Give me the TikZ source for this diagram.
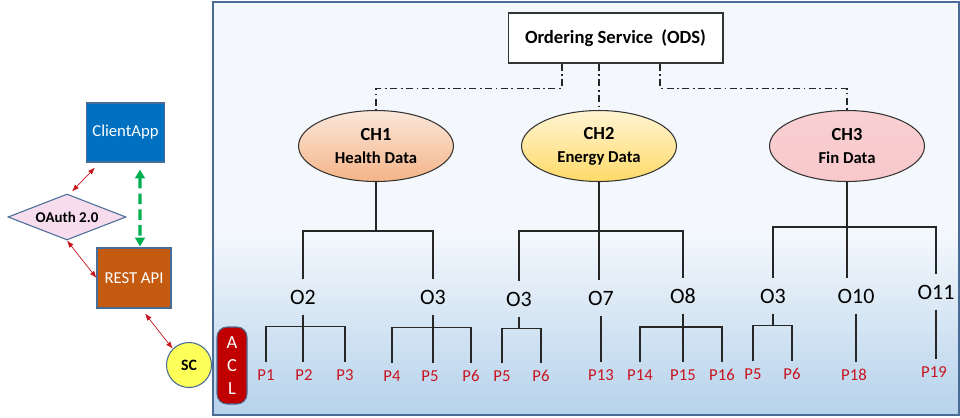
\documentclass[tikz,border=0pt]{standalone}
\usepackage{fontspec}
\setmainfont{Carlito}
\usetikzlibrary{shapes.geometric,arrows.meta}

\definecolor{panelTop}{RGB}{244,248,252}
\definecolor{panelBottom}{RGB}{182,210,235}
\definecolor{panelBorder}{RGB}{72,108,150}
\definecolor{peerRed}{RGB}{200,20,30}
\definecolor{clientBlue}{RGB}{0,112,192}
\definecolor{restOrange}{RGB}{197,90,17}
\definecolor{oauthPink}{RGB}{246,220,236}
\definecolor{scYellow}{RGB}{255,255,90}
\definecolor{aclRed}{RGB}{192,0,0}
\definecolor{greenLink}{RGB}{0,176,80}
\definecolor{healthTop}{RGB}{251,231,218}
\definecolor{healthBot}{RGB}{244,180,136}
\definecolor{energyTop}{RGB}{255,244,210}
\definecolor{energyBot}{RGB}{255,218,105}
\definecolor{finTop}{RGB}{250,208,210}
\definecolor{finBot}{RGB}{248,200,203}

\begin{document}
\begin{tikzpicture}[x=0.02cm, y=-0.02cm,
	treeline/.style={line width=0.8pt, black!85},
	ctrlline/.style={line width=0.8pt, black!85, dash pattern=on 4pt off 2pt on 1pt off 2pt},
	chan/.style={ellipse, draw=black!80, line width=0.6pt, minimum width=3.1cm, minimum height=1.42cm, align=center, inner sep=0pt},
	org/.style={inner sep=0.2cm, font=\fontsize{12.5}{14}\selectfont},
	peer/.style={inner sep=0.14cm, text=peerRed, font=\fontsize{9.5}{11}\selectfont},
	linkarrow/.style={{Latex[length=4pt,width=3pt]}-{Latex[length=4pt,width=3pt]}, peerRed, line width=0.4pt},
	appbox/.style={draw=panelBorder, line width=0.6pt, text=white, font=\fontsize{9.5}{11}\selectfont}
]

	\useasboundingbox (0,0) rectangle (960,417);

	%panel with the network
	\fill[panelTop] (213,2) rectangle (959,415);
	\shade[top color=panelTop, bottom color=panelBottom] (213,230) rectangle (959,415);
	\draw[panelBorder, line width=0.8pt] (213,2) rectangle (959,415);

	%ordering service
	\node[draw=black!80, line width=0.6pt, fill=white, minimum width=4.3cm, minimum height=1cm,
		font=\fontsize{10.6}{12}\selectfont\bfseries] (ods) at (615.5,38) {Ordering Service~~(ODS)};

	%channels ch1, ch2, ch3
	\foreach \name/\xpos/\title/\sub/\shadeName in {ch1/376/CH1/Health Data/health, ch2/599/CH2/Energy Data/energy, ch3/847/CH3/Fin Data/fin}
   {
		\node[chan, top color=\shadeName Top, bottom color=\shadeName Bot] (\name) at (\xpos,146)
			{\fontsize{10.5}{12}\selectfont\bfseries \title\\[1pt]\fontsize{9.5}{11}\selectfont\bfseries \sub};
   }

	\draw[ctrlline] ([xshift=-1.07cm]ods.south) -- ++(0,25) -| (ch1.north);
	\draw[ctrlline] (ods.south -| ch2.north) -- (ch2.north);
	\draw[ctrlline] ([xshift=0.89cm]ods.south) -- ++(0,25) -| (ch3.north);

	%organisations, names of the form o<n><channel letter>
	\foreach \name/\lbl/\xpos/\ypos in {o2a/O2/303/297, o3a/O3/433/297, o3b/O3/519/299, o7b/O7/601/298,
		o8b/O8/683/296, o3c/O3/773/296, o10c/O10/856/296, o11c/O11/936/292}
   {
		\node[org] (\name) at (\xpos,\ypos) {\lbl};
   }

	%peers
	\foreach \name/\lbl/\xpos/\ypos in {p1/P1/266/375, p2/P2/304/375, p3/P3/345/375, p4/P4/392/376, p5a/P5/430/376,
		p6a/P6/471/376, p5b/P5/502/376, p6b/P6/541/376, p13/P13/601/375, p14/P14/640/375, p15/P15/683/375,
		p16/P16/722/375, p5c/P5/753/374, p6c/P6/792/374, p18/P18/854/375, p19/P19/934/372}
   {
		\node[peer] (\name) at (\xpos,\ypos) {\lbl};
   }

	%channel to organisations
	\draw[treeline] (ch1.south) -- ++(0,49) coordinate (f1);
	\draw[treeline] (o2a.north) |- (f1) -| (o3a.north);
	\draw[treeline] (ch2.south) -- ++(0,49) coordinate (f2);
	\draw[treeline] (o3b.north) |- (f2) -| (o8b.north);
	\draw[treeline] (f2) -- (f2 |- o7b.north);
	\draw[treeline] (ch3.south) -- ++(0,45) coordinate (f3);
	\draw[treeline] (o3c.north) |- (f3) -| (o11c.north);
	\draw[treeline] (f3) -- (f3 |- o10c.north);

	%organisations to peers
	\draw[treeline] (o2a.south) -- ++(0,12) coordinate (g1);
	\draw[treeline] (p1.north) |- (g1) -| (p3.north);
	\draw[treeline] (g1) -- (g1 |- p2.north);
	\draw[treeline] (o3a.south) -- ++(0,13) coordinate (g2);
	\draw[treeline] (p4.north) |- (g2) -| (p6a.north);
	\draw[treeline] (g2) -- (g2 |- p5a.north);
	\draw[treeline] (o3b.south) -- ++(0,12) coordinate (g3);
	\draw[treeline] (p5b.north) |- (g3) -| (p6b.north);
	\draw[treeline] (o7b.south) -- (o7b.south |- p13.north);
	\draw[treeline] (o8b.south) -- ++(0,13) coordinate (g4);
	\draw[treeline] (p14.north) |- (g4) -| (p16.north);
	\draw[treeline] (g4) -- (g4 |- p15.north);
	\draw[treeline] (o3c.south) -- ++(0,12) coordinate (g5);
	\draw[treeline] (p5c.north) |- (g5) -| (p6c.north);
	\draw[treeline] (o10c.south) -- (o10c.south |- p18.north);
	\draw[treeline] (o11c.south) -- (o11c.south |- p19.north);

	%acl
	\node[draw=panelBorder, line width=0.6pt, fill=aclRed, rounded corners=0.2cm, minimum width=0.6cm, minimum height=1.54cm,
		text=white, align=center, font=\fontsize{10.5}{13}\selectfont] (acl) at (232,365.5) {A\\C\\L};

	%client side
	\node[appbox, fill=clientBlue, minimum width=1.5cm, minimum height=1.18cm] (client) at (125.5,132.5) {ClientApp};
	\node[diamond, draw=panelBorder, line width=0.6pt, fill=oauthPink, aspect=2.56, inner sep=0pt,
		minimum width=2.36cm, minimum height=0.92cm, font=\fontsize{8.5}{10}\selectfont\bfseries] (oauth) at (67,217) {OAuth 2.0};
	\node[appbox, fill=restOrange, minimum width=1.48cm, minimum height=1.2cm] (rest) at (134,278) {REST API};
	\node[circle, draw=panelBorder, line width=0.6pt, fill=scYellow, minimum size=0.9cm, inner sep=0pt,
		font=\fontsize{9}{10}\selectfont\bfseries] (sc) at (189,365) {SC};

	\draw[linkarrow] ([xshift=0.18cm,yshift=-0.1cm]client.south west) -- ([xshift=0.1cm,yshift=0.04cm]oauth.north);
	\draw[linkarrow] (oauth.south) -- (rest.west);
	\draw[linkarrow] ([xshift=0.22cm,yshift=-0.1cm]rest.south) -- (sc.135);
	\draw[{Triangle[length=5pt,width=5.5pt]}-{Triangle[length=5pt,width=5.5pt]}, greenLink, line width=1.8pt,
		dash pattern=on 6pt off 3pt] ([xshift=0.29cm,yshift=-0.14cm]client.south) -- ([xshift=0.12cm,yshift=0.02cm]rest.north);

\end{tikzpicture}
\end{document}
